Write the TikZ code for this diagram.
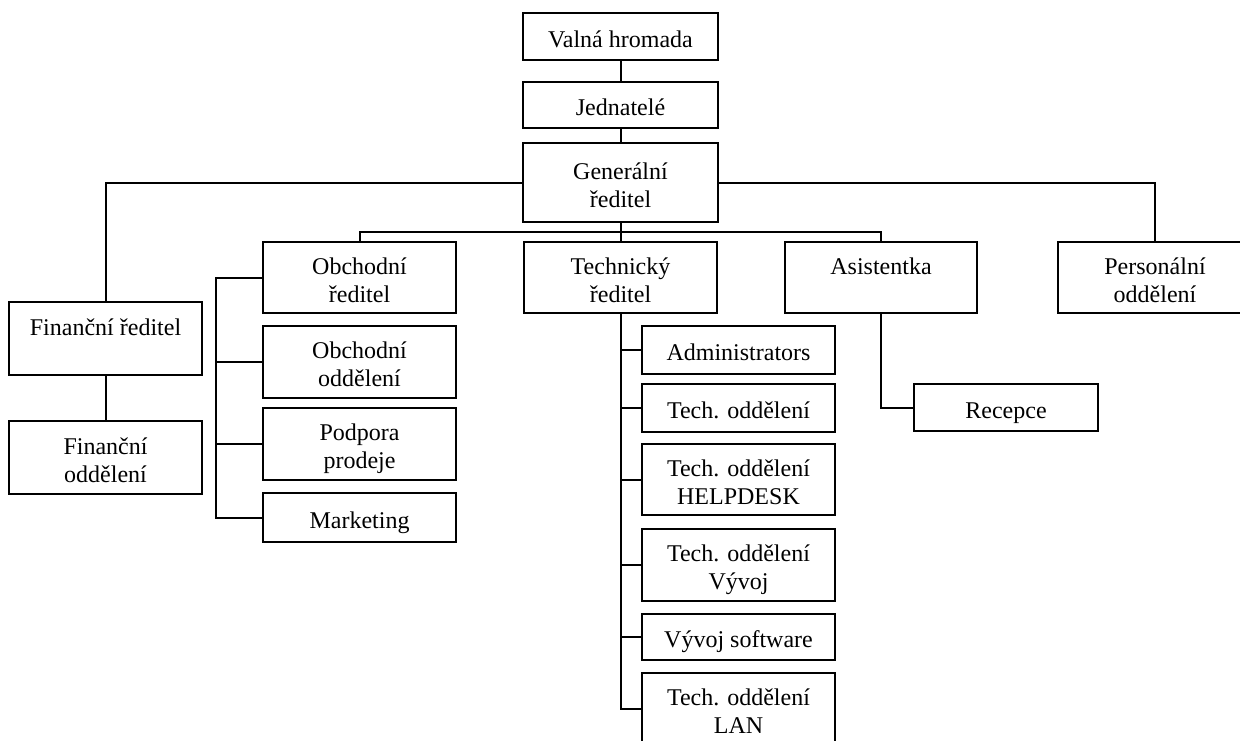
\documentclass[tikz,border=0pt]{standalone}
\usepackage{fontspec}
\setmainfont{Liberation Serif}
\newcommand{\topstr}{\rule{0pt}{27pt}}
\newcommand{\botstr}{\rule[-6pt]{0pt}{6pt}}
\begin{document}
\begin{tikzpicture}[x=1pt,y=-1pt,
  box/.style={draw, line width=2.2pt, inner sep=0pt, align=center,
    font=\fontsize{24}{28}\selectfont, fill=white},
  conn/.style={line width=2pt}]
\useasboundingbox (0,0) rectangle (1240,740);
% top chain
\node[box, minimum width=195, minimum height=47] (valna) at (620.5,36.5) {\topstr Valná hromada\botstr};
\node[box, minimum width=195, minimum height=46] (jed) at (620.5,105) {\topstr Jednatelé\botstr};
\node[box, minimum width=195, minimum height=79] (gen) at (620.5,182.5) {\topstr Generální\\ředitel\botstr};
% left branch
\node[box, minimum width=193, minimum height=73] (finr) at (105.5,338.5) {\topstr Finanční ředitel\\\botstr};
\node[box, minimum width=193, minimum height=73] (fino) at (105.5,457.5) {\topstr Finanční\\oddělení\botstr};
% obchodni
\node[box, minimum width=193, minimum height=71] (obr) at (359.5,277.5) {\topstr Obchodní\\ředitel\botstr};
\node[box, minimum width=193, minimum height=72] (obo) at (359.5,362) {\topstr Obchodní\\oddělení\botstr};
\node[box, minimum width=193, minimum height=72] (pod) at (359.5,444) {\topstr Podpora\\prodeje\botstr};
\node[box, minimum width=193, minimum height=49] (mark) at (359.5,517.5) {\topstr Marketing\botstr};
% technicky
\node[box, minimum width=193, minimum height=71] (tech) at (620.5,277.5) {\topstr Technický\\ředitel\botstr};
\node[box, minimum width=193, minimum height=48] (adm) at (738.5,350) {\topstr Administrators\botstr};
\node[box, minimum width=193, minimum height=48] (to) at (738.5,408) {\topstr Tech. oddělení\botstr};
\node[box, minimum width=193, minimum height=71] (help) at (738.5,479.5) {\topstr Tech. oddělení\\HELPDESK\botstr};
\node[box, minimum width=193, minimum height=72] (vyv) at (738.5,565) {\topstr Tech. oddělení\\Vývoj\botstr};
\node[box, minimum width=193, minimum height=46] (vsw) at (738.5,637) {\topstr Vývoj software\botstr};
\node[box, minimum width=193, minimum height=72] (lan) at (738.5,709) {\topstr Tech. oddělení\\LAN\botstr};
% asistentka
\node[box, minimum width=192, minimum height=71] (asis) at (881,277.5) {\topstr Asistentka\\\botstr};
\node[box, minimum width=184, minimum height=47] (rec) at (1006,407.5) {\topstr Recepce\botstr};
% personalni
\node[box, minimum width=194, minimum height=71] (pers) at (1155,277.5) {\topstr Personální\\oddělení\botstr};
% helper coordinates
\coordinate (bus) at (620.5,232);
\coordinate (brk) at (216,0);
% connectors
\draw[conn] (valna.south) -- (jed.north);
\draw[conn] (jed.south) -- (gen.north);
\draw[conn] (gen.west) -| (finr.north);
\draw[conn] (finr.south) -- (fino.north);
\draw[conn] (gen.east) -| (pers.north);
\draw[conn] (gen.south) -- (tech.north);
\draw[conn] (obr.north) |- (bus) -| (asis.north);
% obchodni bracket
\draw[conn] (obr.west) -- (obr.west -| brk) -- (mark.west -| brk) -- (mark.west);
\draw[conn] (obo.west -| brk) -- (obo.west);
\draw[conn] (pod.west -| brk) -- (pod.west);
% technicky column
\draw[conn] (tech.south) -- (tech.south |- lan.west) -- (lan.west);
\draw[conn] (tech.south |- adm.west) -- (adm.west);
\draw[conn] (tech.south |- to.west) -- (to.west);
\draw[conn] (tech.south |- help.west) -- (help.west);
\draw[conn] (tech.south |- vyv.west) -- (vyv.west);
\draw[conn] (tech.south |- vsw.west) -- (vsw.west);
% asistentka
\draw[conn] (asis.south) |- (rec.west);
\end{tikzpicture}
\end{document}
